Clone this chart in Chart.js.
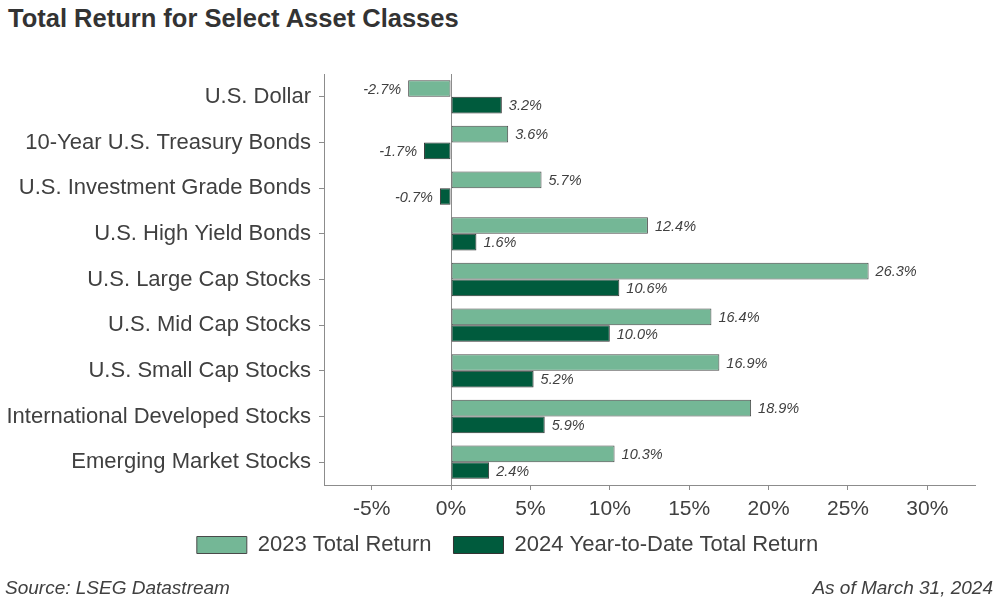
<!DOCTYPE html>
<html lang="en">
<head>
    <meta charset="UTF-8">
    <title>Total Return for Select Asset Classes</title>
    <script src="https://cdn.jsdelivr.net/npm/chart.js"></script>
    <style>
        html, body { margin: 0; padding: 0; background: #fff; }
        .wrap { position: relative; width: 1000px; height: 600px; font-family: "Liberation Sans", Arial, sans-serif; color: #404040; }
        .title { position: absolute; left: 8px; top: 4px; font-size: 25.5px; font-weight: bold; color: #333; }
        .note { position: absolute; top: 577px; font-size: 19px; font-style: italic; color: #404040; }
        canvas { position: absolute; left: 0; top: 0; }
    </style>
</head>
<body>
<div class="wrap">
    <div class="title">Total Return for Select Asset Classes</div>
    <canvas id="returnsChart" width="1000" height="600"></canvas>
    <div class="note" style="left:5px;">Source: LSEG Datastream</div>
    <div class="note" style="right:7px;">As of March 31, 2024</div>
</div>

<script>
    const categories = [
        'U.S. Dollar',
        '10-Year U.S. Treasury Bonds',
        'U.S. Investment Grade Bonds',
        'U.S. High Yield Bonds',
        'U.S. Large Cap Stocks',
        'U.S. Mid Cap Stocks',
        'U.S. Small Cap Stocks',
        'International Developed Stocks',
        'Emerging Market Stocks'
    ];
    const return2023 = [-2.7, 3.6, 5.7, 12.4, 26.3, 16.4, 16.9, 18.9, 10.3];
    const return2024 = [3.2, -1.7, -0.7, 1.6, 10.6, 10.0, 5.2, 5.9, 2.4];
    const seriesNames = ['2023 Total Return', '2024 Year-to-Date Total Return'];
    const xTicks = [-5, 0, 5, 10, 15, 20, 25, 30];

    const textColor = '#404040';
    const axisColor = '#8c8c8c';
    const fontFamily = '"Liberation Sans", Arial, sans-serif';

    // etiquetas de valor al final de cada barra
    const valueLabels = {
        id: 'valueLabels',
        afterDatasetsDraw(chart) {
            const ctx = chart.ctx;
            ctx.save();
            ctx.font = 'italic 14.5px ' + fontFamily;
            ctx.fillStyle = textColor;
            ctx.textBaseline = 'middle';
            chart.data.datasets.forEach((ds, i) => {
                chart.getDatasetMeta(i).data.forEach((bar, j) => {
                    const v = ds.data[j];
                    const txt = v.toFixed(1) + '%';
                    if (v >= 0) {
                        ctx.textAlign = 'left';
                        ctx.fillText(txt, bar.x + 7, bar.y + 1);
                    } else {
                        ctx.textAlign = 'right';
                        ctx.fillText(txt, bar.x - 7, bar.y + 1);
                    }
                });
            });
            ctx.restore();
        }
    };

    // la leyenda va un poco a la derecha del centro y algo más arriba
    const shiftLegend = {
        id: 'shiftLegend',
        afterLayout(chart) {
            const lg = chart.legend;
            lg.left += 20;
            lg.right += 20;
            lg.top -= 11;
            lg.bottom -= 11;
        }
    };

    new Chart(document.getElementById('returnsChart'), {
        type: 'bar',
        data: {
            labels: categories,
            datasets: [
                {
                    label: seriesNames[0],
                    data: return2023,
                    backgroundColor: '#74b796',
                    borderColor: '#4a4a4a',
                    borderWidth: 1,
                    borderSkipped: false
                },
                {
                    label: seriesNames[1],
                    data: return2024,
                    backgroundColor: '#005b3d',
                    borderColor: '#333333',
                    borderWidth: 1,
                    borderSkipped: false
                }
            ]
        },
        options: {
            indexAxis: 'y',
            responsive: false,
            animation: false,
            devicePixelRatio: 1,
            datasets: { bar: { barPercentage: 1, categoryPercentage: 0.73 } },
            layout: { padding: { top: 74, right: 25, bottom: 23, left: 0 } },
            plugins: {
                tooltip: { enabled: false },
                legend: {
                    position: 'bottom',
                    labels: {
                        boxWidth: 50,
                        boxHeight: 17,
                        color: textColor,
                        padding: 22,
                        font: { family: fontFamily, size: 22 }
                    }
                }
            },
            scales: {
                x: {
                    type: 'linear',
                    min: -8,
                    max: 33,
                    afterBuildTicks: (scale) => {
                        scale.ticks = xTicks.map(v => ({ value: v }));
                    },
                    afterFit: (scale) => { scale.height = 38; },
                    ticks: {
                        color: textColor,
                        padding: 7,
                        font: { family: fontFamily, size: 21 },
                        callback: (v) => v + '%'
                    },
                    grid: {
                        drawTicks: true,
                        tickLength: 5,
                        tickColor: axisColor,
                        color: (c) => (c.tick && c.tick.value === 0) ? axisColor : 'rgba(0,0,0,0)',
                        lineWidth: 1
                    },
                    border: { display: true, color: axisColor, width: 1 }
                },
                y: {
                    afterFit: (scale) => { scale.width = 324; },
                    ticks: {
                        color: textColor,
                        padding: 8,
                        font: { family: fontFamily, size: 22 }
                    },
                    grid: {
                        offset: false,
                        drawOnChartArea: false,
                        drawTicks: true,
                        tickLength: 5,
                        color: axisColor
                    },
                    border: { display: true, color: axisColor, width: 1 }
                }
            }
        },
        plugins: [valueLabels, shiftLegend]
    });
</script>
</body>
</html>
